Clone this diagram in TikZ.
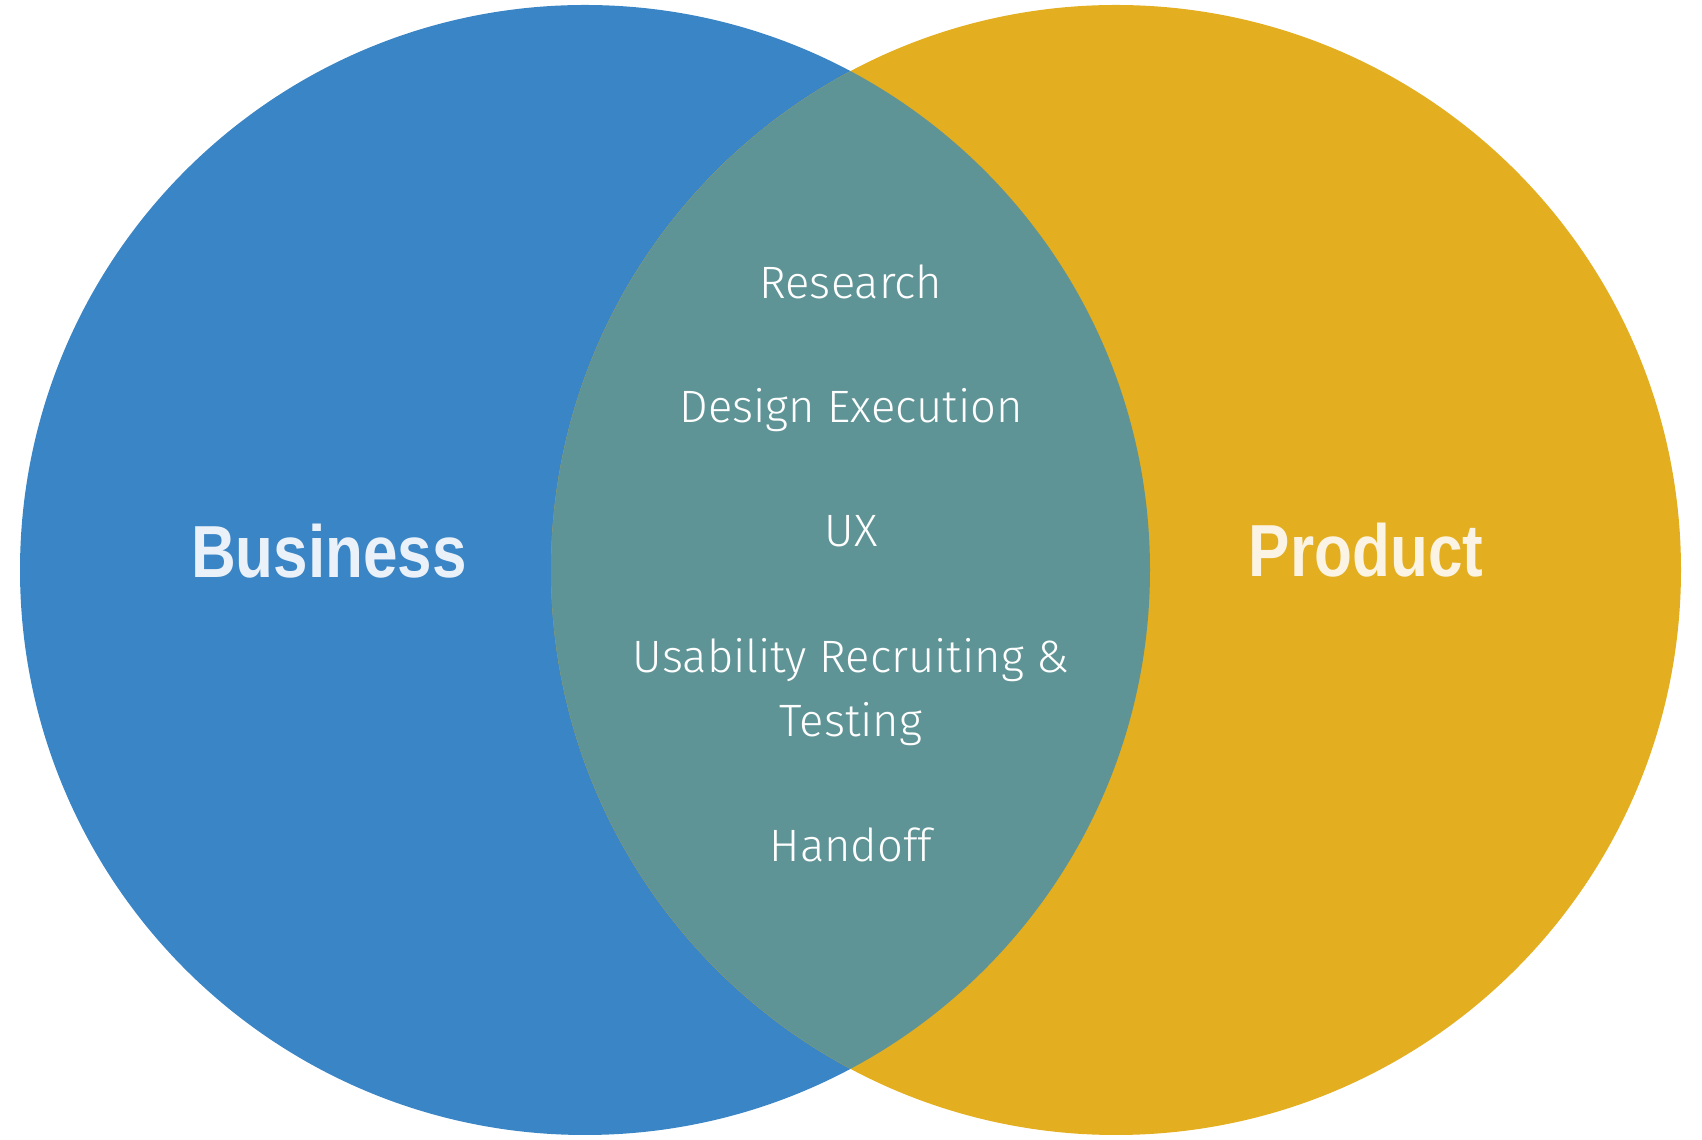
\documentclass[tikz,border=0pt]{standalone}
\usepackage{fontspec}
\newfontfamily\itemfont{Fira Sans Light}
\newfontfamily\headfont[FakeStretch=0.84]{Liberation Sans}
\definecolor{bizblue}{HTML}{3A85C5}
\definecolor{prodgold}{HTML}{E3AE1F}
\definecolor{mixteal}{HTML}{5F9497}
\definecolor{bizwhite}{HTML}{EAF1F8}
\definecolor{prodwhite}{HTML}{FBF4E4}
\tikzset{
  ring/.style={circle, minimum size=11.3cm, inner sep=0pt},
  head/.style={font=\headfont\bfseries\fontsize{21}{25}\selectfont, anchor=base},
  item/.style={font=\itemfont\fontsize{12.9}{18.2}\selectfont, text=white, anchor=base}
}

\begin{document}
\begin{tikzpicture}
\useasboundingbox (0,0) rectangle (17.02,11.40);

% the two sets
\node[ring, fill=bizblue] (biz) at (5.85,5.70) {};
\node[ring, fill=prodgold] (prod) at (11.16,5.70) {};

% overlap
\begin{scope}
\clip (5.85,5.70) circle (5.65);
\fill[mixteal] (11.16,5.70) circle (5.65);
\end{scope}

\node[head, text=bizwhite] (bizlabel) at (3.29,5.62) {Business};
\node[head, text=prodwhite] (prodlabel) at (13.66,5.63) {Product};

\node[item] (research) at (8.51,8.41) {Research};
\node[item] (design) at (8.51,7.17) {Design Execution};
\node[item] (ux) at (8.51,5.93) {UX};
\node[item] (usability) at (8.51,4.67) {Usability Recruiting \&};
\node[item] (testing) at (8.51,4.03) {Testing};
\node[item] (handoff) at (8.51,2.78) {Handoff};
\end{tikzpicture}
\end{document}
